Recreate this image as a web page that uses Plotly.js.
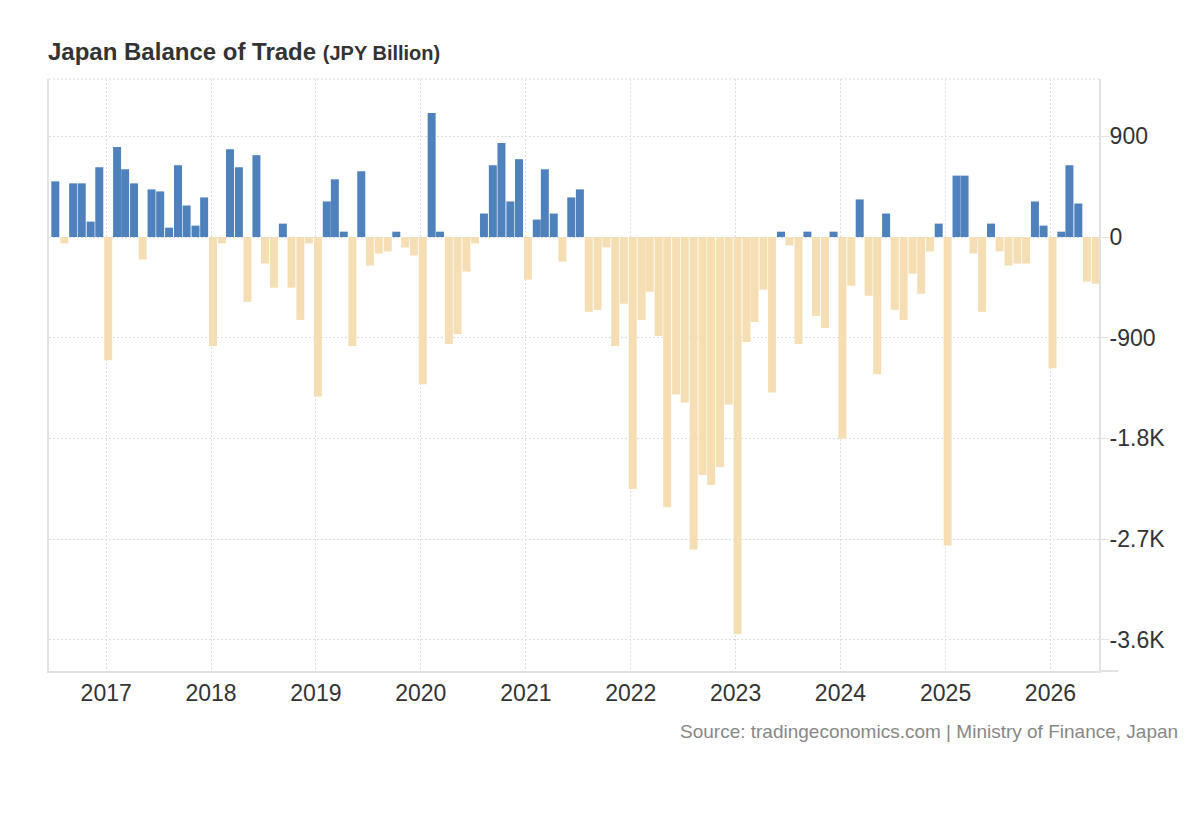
<!DOCTYPE html>
<html>
<head>
<meta charset="utf-8">
<script src="https://cdn.plot.ly/plotly-3.0.1.min.js"></script>
<style>
  html, body { margin: 0; padding: 0; background: #ffffff; }
  #chart { width: 1200px; height: 820px; }
</style>
</head>
<body>
<div id="chart"></div>
<script>
// ---- Data (JPY Billion), monthly, Jul 2016 .. Jun 2026 ----
const startYear = 2016;
const startMonth = 7; // July
const values = [
  // 2016 Jul-Dec
  498, -57, 480, 480, 138, 624,
  // 2017
  -1101, 804, 606, 480, -201, 426, 408, 84, 642, 282, 102, 354,
  // 2018
  -975, -57, 786, 624, -579, 732, -237, -453, 120, -453, -741, -57,
  // 2019
  -1425, 318, 516, 48, -975, 588, -255, -147, -129, 48, -93, -165,
  // 2020
  -1317, 1110, 48, -957, -867, -309, -57, 210, 642, 840, 318, 696,
  // 2021
  -381, 156, 606, 210, -219, 354, 426, -669, -651, -93, -975, -597,
  // 2022
  -2253, -741, -489, -885, -2415, -1407, -1479, -2793, -2127, -2217, -2055, -1497,
  // 2023
  -3549, -939, -759, -471, -1389, 48, -75, -957, 48, -705, -813, 48,
  // 2024
  -1803, -435, 336, -525, -1227, 210, -651, -741, -327, -507, -129, 120,
  // 2025
  -2757, 549, 549, -147, -669, 120, -129, -255, -237, -237, 318, 102,
  // 2026 Jan-Jun
  -1173, 48, 642, 300, -399, -417
];
const yTickVals = [900, 0, -900, -1800, -2700, -3600];
const yTickText = ['900', '0', '-900', '-1.8K', '-2.7K', '-3.6K'];
const titleText = 'Japan Balance of Trade';
const unitText = '(JPY Billion)';
const sourceText = 'Source: tradingeconomics.com | Ministry of Finance, Japan';

// month dates
const months = values.map((v, i) => {
  const m0 = (startMonth - 1) + i;
  const y = startYear + Math.floor(m0 / 12);
  const m = (m0 % 12) + 1;
  return y + '-' + String(m).padStart(2, '0') + '-08';
});

const POS = '#4f81bd';
const NEG = '#f5deb3';
const colors = values.map(v => v >= 0 ? POS : NEG);
const FONT = 'Liberation Sans, Arial, Helvetica, sans-serif';
const DAY = 86400000;

const trace = {
  type: 'bar',
  x: months,
  y: values,
  width: 27.8 * DAY,
  marker: { color: colors, line: { width: 0 } },
  hoverinfo: 'x+y'
};

const layout = {
  width: 1200,
  height: 820,
  paper_bgcolor: '#ffffff',
  plot_bgcolor: '#ffffff',
  margin: { l: 49, r: 101, t: 79, b: 149, pad: 0 },
  showlegend: false,
  font: { family: FONT, color: '#333333' },
  title: {
    text: '<b>' + titleText + ' <span style="font-size:20px">' + unitText + '</span></b>',
    font: { family: FONT, size: 24, color: '#333333' },
    xref: 'container', x: 48 / 1200, xanchor: 'left',
    yref: 'container', y: 1 - 43 / 820, yanchor: 'top'
  },
  xaxis: {
    type: 'date',
    range: ['2016-06-16', '2026-06-19'],
    tick0: '2017-01-01',
    dtick: 'M12',
    tickformat: '%Y',
    ticks: '',
    showgrid: true,
    gridcolor: '#dddddd',
    griddash: '2px,2px',
    gridwidth: 1,
    showline: true,
    linecolor: '#e2e2e2',
    linewidth: 2,
    zeroline: false,
    tickfont: { family: FONT, size: 23, color: '#333333' },
    fixedrange: true
  },
  yaxis: {
    side: 'right',
    range: [-3880, 1413],
    tickvals: yTickVals,
    ticktext: yTickText,
    ticks: 'outside',
    ticklen: 8,
    tickcolor: '#e2e2e2',
    tickwidth: 1,
    ticklabelstandoff: -4,
    showgrid: true,
    gridcolor: '#dddddd',
    griddash: '2px,2px',
    gridwidth: 1,
    showline: true,
    mirror: true,
    linecolor: '#e2e2e2',
    linewidth: 2,
    zeroline: false,
    tickfont: { family: FONT, size: 23, color: '#333333' },
    fixedrange: true
  },
  shapes: [
    { type: 'line', xref: 'paper', yref: 'paper', x0: 0, x1: 1, y0: 1, y1: 1,
      line: { color: '#dddddd', width: 1, dash: '2px,2px' } },
    { type: 'line', xref: 'paper', yref: 'paper', x0: 1, x1: 1 + 19 / 1050, y0: 0, y1: 0,
      line: { color: '#e2e2e2', width: 2 } }
  ],
  annotations: [
    { text: sourceText, xref: 'paper', yref: 'paper',
      x: (1180 - 49) / 1050, xanchor: 'right',
      y: -(731 - 671) / 592, yanchor: 'middle',
      showarrow: false,
      font: { family: FONT, size: 19, color: '#878787' } }
  ]
};

Plotly.newPlot('chart', [trace], layout, { displayModeBar: false, staticPlot: true });
</script>
</body>
</html>
